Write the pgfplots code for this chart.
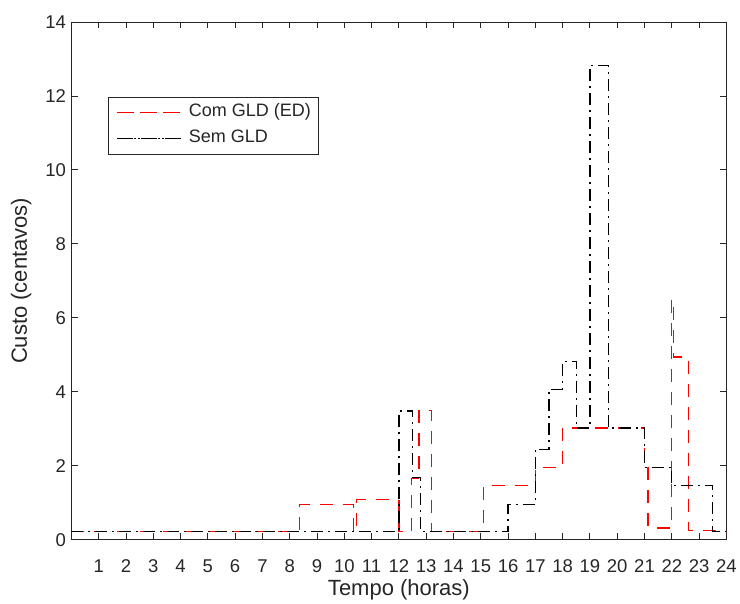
\documentclass[border=0pt]{standalone}
\usepackage{pgfplots}
\pgfplotsset{compat=1.18}
\usepackage{fontspec}
\setmainfont{Liberation Sans}
\definecolor{axiscol}{HTML}{262626}
\definecolor{mred}{HTML}{FF0000}
\begin{document}
\begin{tikzpicture}
\path (-71.4bp,-64bp) rectangle (668.6bp,540bp);
\begin{axis}[
  at={(0,0)}, anchor=south west,
  width=655.3bp, height=518bp, scale only axis,
  xmin=0, xmax=24, ymin=0, ymax=14,
  xtick={1,...,24}, ytick={0,2,...,14},
  tick align=inside, tick pos=both,
  major tick length=6.5bp,
  axis line style={axiscol, line width=0.9bp},
  every tick/.style={axiscol, line width=0.9bp},
  tick label style={font=\fontsize{18.5bp}{20bp}\selectfont, text=axiscol},
  /pgf/number format/assume math mode=true,
  xticklabel style={yshift=-16bp},
  yticklabel style={xshift=-2bp},
  label style={font=\fontsize{22bp}{24bp}\selectfont, text=axiscol},
  xlabel={Tempo (horas)}, ylabel={Custo (centavos)},
  xlabel style={yshift=0bp},
  ylabel style={yshift=7bp},
  legend style={at={(0.0563,0.856)}, anchor=north west, draw=axiscol, line width=0.9bp,
    fill=white, font=\fontsize{18bp}{20bp}\selectfont, text=axiscol,
    inner xsep=8bp, inner ysep=2.5bp, row sep=0bp, column sep=7bp,
    nodes={inner xsep=0bp, inner ysep=4.5bp, text height=13bp, text depth=4bp}},
  legend cell align=left,
  legend image code/.code={\path (0bp,0bp) -- (64bp,0bp); \draw[#1] (4bp,0bp) -- (64bp,0bp);},
]
\addplot[const plot, mred, line width=1.3bp, dash pattern=on 13bp off 10bp] coordinates {
(0,0.22) (8.35,0.95) (10.33,0.22) (10.45,1.09) (12.0,0.22) (12.47,1.65) (12.74,3.5) (13.2,0.22)
(15.1,1.47) (17.0,1.95) (18.0,3.02) (21.0,1.95) (21.13,0.32) (22.0,6.5) (22.05,4.94) (22.6,0.25) (24,0.25)
};
\addlegendentry{Com GLD (ED)}
\addplot[const plot, black, line width=1.3bp, dash pattern=on 12bp off 5bp on 2bp off 5bp] coordinates {
(0,0.22) (12.0,3.48) (12.49,1.68) (12.8,0.22) (16.0,0.96) (17.0,2.45) (17.5,4.07) (18.0,4.82)
(18.5,3.02) (19.0,12.83) (19.67,3.02) (21.0,1.95) (22.0,1.46) (23.5,0.22) (24,0.22)
};
\addlegendentry{Sem GLD}
\end{axis}
\end{tikzpicture}
\end{document}
